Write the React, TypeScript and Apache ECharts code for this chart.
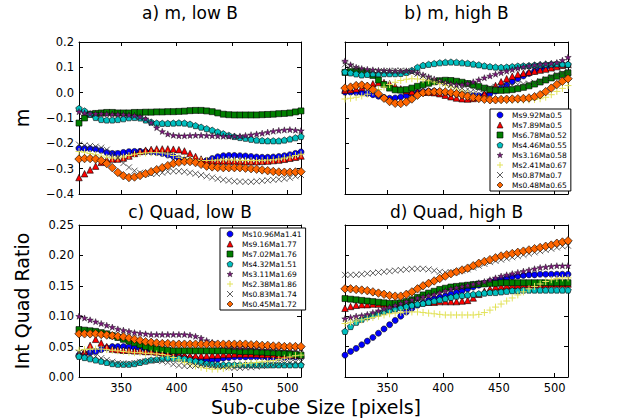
import React, { useEffect, useRef } from "react";
import * as echarts from "echarts";

// Sub-cube sizes (x values)
const sizes = [
  312, 317, 322, 327, 332, 337, 342, 347, 352, 357,
  362, 367, 372, 377, 382, 387, 392, 397, 402, 407,
  412, 417, 422, 427, 432, 437, 442, 447, 452, 457,
  462, 467, 472, 477, 482, 487, 492, 497, 502, 507,
  512,
];
const xTicks = [350, 400, 450, 500];

const namesLow = ["Ms10.96Ma1.41", "Ms9.16Ma1.77", "Ms7.02Ma1.76", "Ms4.32Ma1.51", "Ms3.11Ma1.69", "Ms2.38Ma1.86", "Ms0.83Ma1.74", "Ms0.45Ma1.72"];
const namesHigh = ["Ms9.92Ma0.5", "Ms7.89Ma0.5", "Ms6.78Ma0.52", "Ms4.46Ma0.55", "Ms3.16Ma0.58", "Ms2.41Ma0.67", "Ms0.87Ma0.7", "Ms0.48Ma0.65"];

const titles = ["a) m, low B", "b) m, high B", "c) Quad, low B", "d) Quad, high B"];

// a) m, low B
const aBlue = [-0.22,-0.22,-0.221,-0.223,-0.228,-0.236,-0.24,-0.24,-0.236,-0.233,
  -0.232,-0.232,-0.233,-0.234,-0.236,-0.24,-0.246,-0.252,-0.26,-0.266,
  -0.27,-0.272,-0.272,-0.268,-0.26,-0.253,-0.249,-0.248,-0.248,-0.249,
  -0.25,-0.252,-0.254,-0.255,-0.255,-0.254,-0.252,-0.249,-0.245,-0.24,
  -0.234];
const aRed = [-0.335,-0.32,-0.305,-0.29,-0.275,-0.265,-0.262,-0.262,-0.258,-0.25,
  -0.24,-0.232,-0.227,-0.224,-0.222,-0.222,-0.222,-0.223,-0.225,-0.23,
  -0.24,-0.252,-0.262,-0.268,-0.27,-0.27,-0.27,-0.27,-0.27,-0.272,
  -0.272,-0.272,-0.272,-0.271,-0.27,-0.268,-0.266,-0.263,-0.259,-0.255,
  -0.25];
const aGreen = [-0.12,-0.1,-0.085,-0.082,-0.08,-0.078,-0.078,-0.08,-0.08,-0.08,
  -0.078,-0.078,-0.077,-0.077,-0.076,-0.076,-0.075,-0.075,-0.074,-0.073,
  -0.071,-0.07,-0.07,-0.072,-0.075,-0.08,-0.085,-0.087,-0.088,-0.088,
  -0.088,-0.088,-0.088,-0.087,-0.086,-0.085,-0.083,-0.082,-0.08,-0.076,
  -0.072];
const aCyan = [-0.062,-0.072,-0.085,-0.098,-0.106,-0.108,-0.108,-0.106,-0.103,-0.099,
  -0.098,-0.1,-0.108,-0.116,-0.12,-0.121,-0.121,-0.12,-0.119,-0.12,
  -0.124,-0.13,-0.136,-0.142,-0.148,-0.155,-0.162,-0.168,-0.173,-0.177,
  -0.18,-0.184,-0.187,-0.189,-0.19,-0.19,-0.19,-0.187,-0.183,-0.178,
  -0.173];
const aPurple = [-0.075,-0.08,-0.083,-0.083,-0.083,-0.084,-0.085,-0.085,-0.086,-0.088,
  -0.09,-0.095,-0.103,-0.118,-0.138,-0.153,-0.163,-0.168,-0.17,-0.17,
  -0.169,-0.168,-0.168,-0.169,-0.17,-0.171,-0.172,-0.172,-0.172,-0.171,
  -0.169,-0.166,-0.163,-0.16,-0.156,-0.152,-0.149,-0.147,-0.146,-0.148,
  -0.15];
const aYellow = [-0.232,-0.235,-0.24,-0.245,-0.25,-0.255,-0.258,-0.258,-0.254,-0.248,
  -0.243,-0.24,-0.238,-0.237,-0.237,-0.238,-0.242,-0.248,-0.255,-0.26,
  -0.263,-0.266,-0.268,-0.268,-0.267,-0.266,-0.265,-0.265,-0.266,-0.267,
  -0.268,-0.268,-0.268,-0.267,-0.266,-0.265,-0.262,-0.258,-0.254,-0.248,
  -0.243];
const aBlack = [-0.205,-0.208,-0.21,-0.213,-0.217,-0.225,-0.24,-0.258,-0.278,-0.295,
  -0.308,-0.316,-0.32,-0.321,-0.32,-0.316,-0.312,-0.31,-0.31,-0.312,
  -0.316,-0.32,-0.325,-0.33,-0.335,-0.34,-0.344,-0.347,-0.35,-0.351,
  -0.352,-0.352,-0.35,-0.348,-0.346,-0.344,-0.342,-0.34,-0.336,-0.33,
  -0.325];
const aOrange = [-0.262,-0.26,-0.26,-0.262,-0.268,-0.28,-0.296,-0.315,-0.328,-0.335,
  -0.333,-0.327,-0.32,-0.312,-0.304,-0.296,-0.288,-0.28,-0.275,-0.272,
  -0.272,-0.276,-0.283,-0.29,-0.293,-0.295,-0.296,-0.296,-0.296,-0.296,
  -0.298,-0.3,-0.302,-0.305,-0.308,-0.311,-0.313,-0.314,-0.314,-0.313,
  -0.312];

// b) m, high B
const bBlue = [0.002,0.002,0.001,0.0,-0.003,-0.008,-0.014,-0.019,-0.022,-0.021,
  -0.017,-0.012,-0.006,0.0,0.004,0.006,0.006,0.004,0.0,-0.003,
  -0.005,-0.007,-0.009,-0.011,-0.012,-0.01,-0.004,0.006,0.018,0.03,
  0.043,0.055,0.066,0.076,0.085,0.093,0.1,0.105,0.108,0.109,
  0.11];
const bRed = [0.01,0.012,0.015,0.02,0.028,0.035,0.04,0.04,0.035,0.025,
  0.015,0.008,0.004,0.002,0.002,0.002,0.0,-0.004,-0.01,-0.016,
  -0.021,-0.024,-0.025,-0.023,-0.017,-0.005,0.012,0.028,0.043,0.055,
  0.065,0.072,0.077,0.081,0.085,0.089,0.093,0.098,0.103,0.108,
  0.112];
const bGreen = [0.08,0.083,0.085,0.083,0.078,0.068,0.05,0.032,0.018,0.011,
  0.01,0.012,0.018,0.025,0.031,0.037,0.043,0.047,0.049,0.048,
  0.045,0.041,0.036,0.03,0.024,0.018,0.013,0.01,0.009,0.01,
  0.012,0.016,0.021,0.027,0.034,0.042,0.05,0.058,0.065,0.072,
  0.078];
const bCyan = [0.082,0.078,0.074,0.07,0.072,0.075,0.075,0.075,0.075,0.075,
  0.076,0.08,0.088,0.1,0.108,0.112,0.115,0.118,0.12,0.121,
  0.12,0.118,0.116,0.113,0.11,0.106,0.103,0.101,0.1,0.101,
  0.103,0.105,0.106,0.107,0.109,0.11,0.112,0.113,0.114,0.113,
  0.112];
const bPurple = [0.125,0.11,0.1,0.095,0.092,0.09,0.088,0.087,0.086,0.085,
  0.085,0.086,0.084,0.078,0.07,0.062,0.054,0.047,0.04,0.035,
  0.032,0.032,0.036,0.043,0.051,0.059,0.066,0.073,0.079,0.085,
  0.091,0.097,0.102,0.106,0.109,0.112,0.114,0.116,0.119,0.128,
  0.14];
const bYellow = [-0.025,-0.022,-0.018,-0.013,-0.006,0.002,0.012,0.022,0.032,0.041,
  0.048,0.053,0.055,0.054,0.051,0.047,0.042,0.036,0.029,0.022,
  0.014,0.006,-0.002,-0.01,-0.017,-0.022,-0.026,-0.028,-0.029,-0.03,
  -0.03,-0.03,-0.03,-0.029,-0.027,-0.024,-0.018,-0.008,0.005,0.017,
  0.028];
const bBlack = [0.112,0.105,0.097,0.09,0.086,0.084,0.084,0.085,0.086,0.087,
  0.087,0.086,0.082,0.075,0.066,0.058,0.05,0.043,0.036,0.03,
  0.024,0.018,0.014,0.012,0.013,0.016,0.02,0.023,0.026,0.028,
  0.03,0.032,0.034,0.036,0.04,0.046,0.054,0.063,0.071,0.078,
  0.083];
const bOrange = [0.018,0.022,0.028,0.03,0.025,0.012,-0.005,-0.022,-0.035,-0.042,
  -0.043,-0.037,-0.025,-0.01,0.0,0.003,0.004,0.004,0.003,0.0,
  -0.004,-0.009,-0.014,-0.019,-0.023,-0.026,-0.028,-0.028,-0.027,-0.026,
  -0.025,-0.024,-0.023,-0.021,-0.016,-0.008,0.004,0.018,0.032,0.045,
  0.055];

// c) Quad, low B
const cBlue = [0.036,0.038,0.04,0.042,0.045,0.048,0.05,0.05,0.05,0.049,
  0.048,0.047,0.046,0.044,0.042,0.04,0.038,0.036,0.034,0.032,
  0.031,0.03,0.029,0.028,0.028,0.029,0.031,0.032,0.033,0.033,
  0.033,0.033,0.033,0.033,0.032,0.032,0.032,0.032,0.033,0.033,
  0.034];
const cRed = [0.038,0.042,0.052,0.062,0.056,0.05,0.046,0.045,0.044,0.044,
  0.043,0.043,0.042,0.042,0.041,0.04,0.039,0.038,0.037,0.036,
  0.035,0.035,0.035,0.035,0.036,0.036,0.037,0.037,0.038,0.038,
  0.038,0.038,0.038,0.037,0.037,0.037,0.036,0.036,0.036,0.036,
  0.036];
const cGreen = [0.078,0.077,0.076,0.075,0.073,0.071,0.068,0.065,0.062,0.059,
  0.056,0.053,0.05,0.048,0.046,0.045,0.044,0.043,0.043,0.043,
  0.043,0.043,0.043,0.043,0.043,0.043,0.043,0.043,0.043,0.042,
  0.042,0.042,0.041,0.041,0.04,0.04,0.039,0.039,0.038,0.037,
  0.036];
const cCyan = [0.034,0.032,0.03,0.028,0.026,0.024,0.022,0.021,0.021,0.021,
  0.022,0.024,0.026,0.028,0.029,0.03,0.031,0.031,0.031,0.03,
  0.028,0.026,0.024,0.022,0.021,0.02,0.02,0.02,0.02,0.02,
  0.02,0.02,0.02,0.02,0.02,0.02,0.02,0.02,0.02,0.02,
  0.02];
const cPurple = [0.1,0.097,0.094,0.091,0.088,0.085,0.082,0.079,0.077,0.075,
  0.073,0.072,0.071,0.07,0.07,0.07,0.07,0.07,0.07,0.07,
  0.069,0.067,0.064,0.06,0.057,0.054,0.052,0.05,0.049,0.049,
  0.049,0.049,0.049,0.048,0.048,0.047,0.047,0.047,0.047,0.047,
  0.047];
const cYellow = [0.044,0.045,0.046,0.046,0.046,0.045,0.044,0.043,0.042,0.041,
  0.04,0.04,0.039,0.039,0.038,0.037,0.035,0.032,0.028,0.024,
  0.021,0.018,0.016,0.014,0.013,0.013,0.014,0.016,0.018,0.02,
  0.022,0.023,0.024,0.025,0.026,0.027,0.029,0.031,0.033,0.035,
  0.036];
const cBlack = [0.04,0.039,0.037,0.034,0.031,0.028,0.025,0.023,0.022,0.022,
  0.023,0.025,0.026,0.027,0.027,0.026,0.024,0.021,0.019,0.018,
  0.018,0.019,0.02,0.02,0.019,0.018,0.017,0.016,0.015,0.015,
  0.016,0.016,0.017,0.018,0.019,0.02,0.021,0.022,0.023,0.024,
  0.025];
const cOrange = [0.071,0.071,0.071,0.071,0.07,0.069,0.068,0.067,0.066,0.064,
  0.062,0.06,0.058,0.057,0.056,0.055,0.055,0.054,0.054,0.054,
  0.054,0.054,0.054,0.054,0.054,0.054,0.054,0.054,0.054,0.054,
  0.054,0.053,0.053,0.052,0.052,0.051,0.051,0.05,0.05,0.05,
  0.05];

// d) Quad, high B
const dBlue = [0.036,0.042,0.047,0.053,0.059,0.065,0.072,0.079,0.086,0.093,
  0.1,0.107,0.113,0.118,0.122,0.126,0.129,0.131,0.133,0.136,
  0.139,0.142,0.145,0.148,0.151,0.154,0.157,0.159,0.161,0.163,
  0.165,0.166,0.167,0.168,0.168,0.169,0.169,0.169,0.169,0.169,
  0.169];
const dRed = [0.113,0.116,0.118,0.119,0.119,0.12,0.12,0.12,0.12,0.12,
  0.121,0.121,0.122,0.122,0.123,0.123,0.123,0.124,0.124,0.124,
  0.124,0.125,0.126,0.13,0.136,0.141,0.145,0.148,0.149,0.15,
  0.151,0.151,0.152,0.152,0.152,0.152,0.152,0.153,0.153,0.153,
  0.153];
const dGreen = [0.129,0.128,0.127,0.126,0.125,0.124,0.123,0.122,0.121,0.121,
  0.122,0.124,0.127,0.131,0.135,0.138,0.141,0.144,0.146,0.148,
  0.149,0.15,0.151,0.152,0.153,0.153,0.154,0.154,0.155,0.155,
  0.155,0.155,0.155,0.155,0.155,0.155,0.155,0.155,0.155,0.155,
  0.155];
const dCyan = [0.075,0.083,0.09,0.095,0.099,0.102,0.105,0.108,0.11,0.112,
  0.114,0.116,0.118,0.12,0.121,0.123,0.125,0.127,0.129,0.131,
  0.133,0.134,0.135,0.136,0.137,0.138,0.139,0.139,0.14,0.141,
  0.142,0.142,0.143,0.143,0.143,0.143,0.143,0.143,0.143,0.143,
  0.143];
const dPurple = [0.096,0.098,0.1,0.101,0.103,0.106,0.109,0.112,0.115,0.118,
  0.121,0.124,0.127,0.13,0.132,0.134,0.136,0.139,0.142,0.145,
  0.147,0.149,0.151,0.153,0.155,0.157,0.16,0.163,0.166,0.168,
  0.17,0.172,0.174,0.176,0.178,0.18,0.181,0.182,0.183,0.183,
  0.183];
const dYellow = [0.088,0.09,0.092,0.094,0.096,0.098,0.1,0.102,0.104,0.105,
  0.106,0.107,0.107,0.107,0.106,0.105,0.104,0.103,0.102,0.102,
  0.102,0.102,0.102,0.102,0.103,0.106,0.11,0.115,0.12,0.125,
  0.13,0.135,0.14,0.145,0.149,0.153,0.157,0.16,0.162,0.163,
  0.163];
const dBlack = [0.168,0.168,0.168,0.169,0.17,0.171,0.172,0.173,0.174,0.175,
  0.176,0.177,0.178,0.178,0.178,0.177,0.175,0.173,0.172,0.172,
  0.173,0.175,0.177,0.18,0.183,0.186,0.189,0.191,0.193,0.195,
  0.197,0.199,0.201,0.203,0.205,0.207,0.209,0.211,0.213,0.215,
  0.216];
const dOrange = [0.145,0.145,0.144,0.143,0.142,0.14,0.138,0.136,0.134,0.133,
  0.133,0.136,0.14,0.145,0.15,0.154,0.158,0.162,0.166,0.17,
  0.173,0.176,0.179,0.183,0.187,0.19,0.193,0.196,0.199,0.201,
  0.203,0.205,0.207,0.209,0.211,0.213,0.215,0.217,0.22,0.222,
  0.224];

// ---- styles ----
const FONT = "DejaVu Sans";
const STAR = "path://M0,-10L2.35,-3.24L9.51,-3.09L3.8,1.24L5.88,8.09L0,4L-5.88,8.09L-3.8,1.24L-9.51,-3.09L-2.35,-3.24Z";
const PENTA = "path://M0,-10L9.51,-3.09L5.88,8.09L-5.88,8.09L-9.51,-3.09Z";
const PLUS = "path://M0,5L10,5M5,0L5,10";
const CROSS = "path://M0,0L10,10M0,10L10,0";

const markerStyles = [
  { symbol: "circle", size: 6, color: "#0000ff", edge: "#000", bw: 0.6 },
  { symbol: "triangle", size: 6.5, color: "#ff0000", edge: "#000", bw: 0.6 },
  { symbol: "rect", size: 6, color: "#007f00", edge: "#000", bw: 0.6 },
  { symbol: PENTA, size: 6.5, color: "#00bfbf", edge: "#000", bw: 0.6 },
  { symbol: STAR, size: 6.5, color: "#7a1a7a", edge: "#000", bw: 0.4 },
  { symbol: PLUS, size: 7, color: "#e2e25a", edge: "#e2e25a", bw: 1 },
  { symbol: CROSS, size: 6, color: "#333333", edge: "#333333", bw: 0.8 },
  { symbol: "diamond", size: 8.5, color: "#ff6600", edge: "#000", bw: 0.6 },
];

const grids = [
  { left: 79, top: 42, width: 222, height: 152 },
  { left: 345, top: 42, width: 223, height: 152 },
  { left: 79, top: 225, width: 222, height: 152 },
  { left: 345, top: 225, width: 223, height: 152 },
];

const panelSeries = [
  [aBlue, aRed, aGreen, aCyan, aPurple, aYellow, aBlack, aOrange],
  [bBlue, bRed, bGreen, bCyan, bPurple, bYellow, bBlack, bOrange],
  [cBlue, cRed, cGreen, cCyan, cPurple, cYellow, cBlack, cOrange],
  [dBlue, dRed, dGreen, dCyan, dPurple, dYellow, dBlack, dOrange],
];
const panelNames = [namesLow, namesHigh, namesLow, namesHigh];
const yRanges = [
  { min: -0.4, max: 0.2, interval: 0.1, dec: 1 },
  { min: -0.4, max: 0.2, interval: 0.1, dec: 1 },
  { min: 0, max: 0.25, interval: 0.05, dec: 2 },
  { min: 0, max: 0.25, interval: 0.05, dec: 2 },
];

function fmt(v: number, dec: number) {
  const x = Math.abs(v) < 1e-9 ? 0 : v;
  return x.toFixed(dec).replace("-", "\u2212");
}

function legendData(names: string[]) {
  return names.map((n, k) => {
    const m = markerStyles[k];
    return {
      name: n,
      icon: m.symbol,
      itemStyle: { color: m.color, borderColor: m.edge, borderWidth: m.bw },
      textStyle: { color: "#000" },
    };
  });
}

function buildOption() {
  const xAxis: any[] = [];
  const yAxis: any[] = [];
  const series: any[] = [];
  grids.forEach((_, g) => {
    const tickStyle = { show: true, inside: true, length: 4, lineStyle: { color: "#000", width: 1 } };
    const lineStyle = { show: true, onZero: false, lineStyle: { color: "#000", width: 1 } };
    ["bottom", "top"].forEach((pos) => {
      xAxis.push({
        type: "value",
        gridIndex: g,
        position: pos,
        min: 312,
        max: 512,
        axisLine: lineStyle,
        axisTick: { ...tickStyle, customValues: xTicks },
        axisLabel: {
          show: pos === "bottom" && g >= 2,
          customValues: xTicks,
          margin: 5,
          fontSize: 11.5,
          fontFamily: FONT,
          color: "#000",
        },
        splitLine: { show: false },
      });
    });
    const yr = yRanges[g];
    ["left", "right"].forEach((pos) => {
      yAxis.push({
        type: "value",
        gridIndex: g,
        position: pos,
        min: yr.min,
        max: yr.max,
        interval: yr.interval,
        axisLine: lineStyle,
        axisTick: tickStyle,
        axisLabel: {
          show: pos === "left" && g % 2 === 0,
          margin: 5,
          fontSize: 11.5,
          fontFamily: FONT,
          color: "#000",
          formatter: (v: number) => fmt(v, yr.dec),
        },
        splitLine: { show: false },
      });
    });
    panelSeries[g].forEach((vals, k) => {
      const m = markerStyles[k];
      series.push({
        type: "scatter",
        name: panelNames[g][k],
        xAxisIndex: g * 2,
        yAxisIndex: g * 2,
        data: vals.map((v, i) => [sizes[i], v]),
        symbol: m.symbol,
        symbolSize: m.size,
        symbolKeepAspect: true,
        itemStyle: { color: m.color, borderColor: m.edge, borderWidth: m.bw, opacity: 1 },
        silent: true,
        z: 2,
      });
    });
  });

  const legendCommon = {
    orient: "vertical",
    itemWidth: 6,
    itemHeight: 6,
    itemGap: 0,
    padding: [1, 4, 1, 6.5],
    symbolKeepAspect: true,
    borderColor: "#000",
    borderWidth: 1,
    borderRadius: 0,
    backgroundColor: "#fff",
    selectedMode: false,
    textStyle: { fontSize: 7.5, fontFamily: FONT, color: "#000", lineHeight: 10, padding: [0, 0, 0, 4] },
    z: 10,
  };

  const titleTexts = titles.map((t, g) => ({
    type: "text",
    x: grids[g].left + grids[g].width / 2,
    y: g < 2 ? 13 : 212,
    style: { text: t, font: `17px '${FONT}'`, fill: "#000", textAlign: "center", textVerticalAlign: "middle" },
  }));

  return {
    animation: false,
    backgroundColor: "#fff",
    grid: grids.map((g) => ({ ...g, containLabel: false })),
    xAxis,
    yAxis,
    series,
    legend: [
      { ...legendCommon, data: legendData(namesHigh), left: 490, top: 109 },
      { ...legendCommon, data: legendData(namesLow), left: 220, top: 228 },
    ],
    graphic: [
      ...titleTexts,
      {
        type: "text",
        x: 22,
        y: 118,
        rotation: Math.PI / 2,
        style: { text: "m", font: `19px '${FONT}'`, fill: "#000", textAlign: "center", textVerticalAlign: "middle" },
      },
      {
        type: "text",
        x: 22,
        y: 301,
        rotation: Math.PI / 2,
        style: { text: "Int Quad Ratio", font: `19px '${FONT}'`, fill: "#000", textAlign: "center", textVerticalAlign: "middle" },
      },
      {
        type: "text",
        x: 316,
        y: 407,
        style: { text: "Sub-cube Size [pixels]", font: `19px '${FONT}'`, fill: "#000", textAlign: "center", textVerticalAlign: "middle" },
      },
    ],
  };
}

export default function App() {
  const ref = useRef<HTMLDivElement>(null);
  useEffect(() => {
    if (!ref.current) return;
    const chart = echarts.init(ref.current, null, { renderer: "svg" });
    chart.setOption(buildOption() as any);
    return () => chart.dispose();
  }, []);
  return (
    <div
      ref={ref}
      style={{ position: "fixed", left: 0, top: 0, width: 630, height: 420, background: "#fff" }}
    />
  );
}
